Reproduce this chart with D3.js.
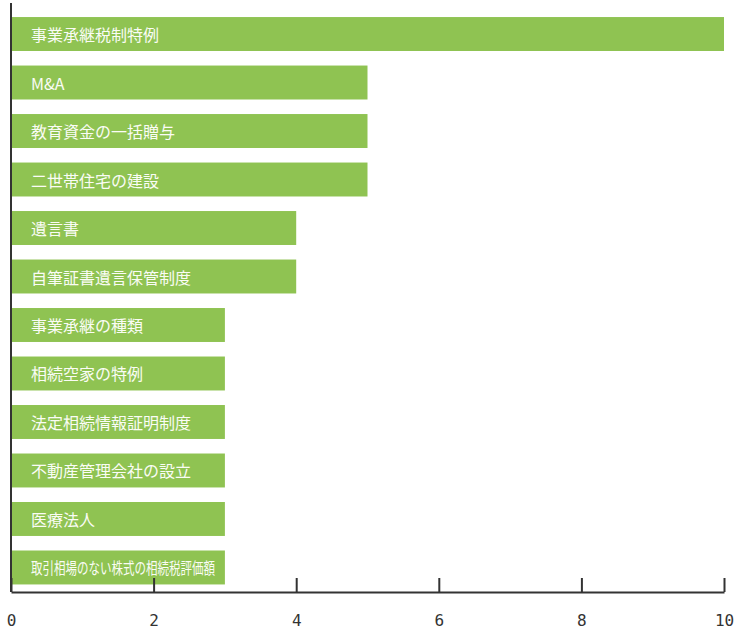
<!DOCTYPE html>
<html>
<head>
<meta charset="utf-8">
<script src="https://cdn.jsdelivr.net/npm/d3@7"></script>
<style>
  body { margin: 0; background: #fff; }
  svg { display: block; }
</style>
</head>
<body>
<div id="chart"></div>
<script>
// topics and how many times each came up
const topics = [
  "事業承継税制特例",
  "M&A",
  "教育資金の一括贈与",
  "二世帯住宅の建設",
  "遺言書",
  "自筆証書遺言保管制度",
  "事業承継の種類",
  "相続空家の特例",
  "法定相続情報証明制度",
  "不動産管理会社の設立",
  "医療法人",
  "取引相場のない株式の相続税評価額"
];
const counts = [10, 5, 5, 5, 4, 4, 3, 3, 3, 3, 3, 3];
const xTicks = [0, 2, 4, 6, 8, 10];

const width = 735, height = 629;
const axisY = 592;

const svg = d3.select("#chart").append("svg")
  .attr("width", width)
  .attr("height", height);

const x = d3.scaleLinear().domain([0, 10]).range([11, 724]);
const y = d3.scaleBand()
  .domain(topics)
  .range([2.5, 599])
  .paddingInner(0.3)
  .paddingOuter(0.3);

// bars
const bars = svg.append("g")
  .selectAll("g")
  .data(topics)
  .enter()
  .append("g");

bars.append("rect")
  .attr("x", x(0))
  .attr("y", d => y(d))
  .attr("width", (d, i) => x(counts[i]) - x(0))
  .attr("height", y.bandwidth())
  .style("fill", "#8fc352");

bars.append("text")
  .attr("x", x(0) + 20)
  .attr("y", d => y(d) + y.bandwidth() / 2)
  .attr("dominant-baseline", "central")
  .style("fill", "#fafcf5")
  .style("font-family", "'Noto Sans CJK JP', sans-serif")
  .style("font-size", "16px")
  .text(d => d)
  .each(function (d, i) {
    // squeeze labels that do not fit inside their bar
    const room = x(counts[i]) - x(0) - 30;
    if (this.getComputedTextLength() > room) {
      d3.select(this)
        .attr("textLength", room)
        .attr("lengthAdjust", "spacingAndGlyphs");
    }
  });

// left axis line
svg.append("line")
  .attr("x1", x(0)).attr("x2", x(0))
  .attr("y1", 3).attr("y2", axisY)
  .style("stroke", "#333")
  .style("stroke-width", 2);

// bottom axis, ticks pointing up
const xAxis = svg.append("g")
  .attr("transform", `translate(0,${axisY})`)
  .call(d3.axisBottom(x).tickValues(xTicks).tickSize(-14).tickSizeOuter(0).tickPadding(23));

xAxis.select(".domain").style("stroke", "#333").style("stroke-width", 2);
xAxis.selectAll(".tick line").style("stroke", "#333").style("stroke-width", 2);
xAxis.selectAll(".tick text")
  .style("font-family", "'DejaVu Sans Mono', monospace")
  .style("font-size", "16px")
  .style("fill", "#333");
</script>
</body>
</html>
